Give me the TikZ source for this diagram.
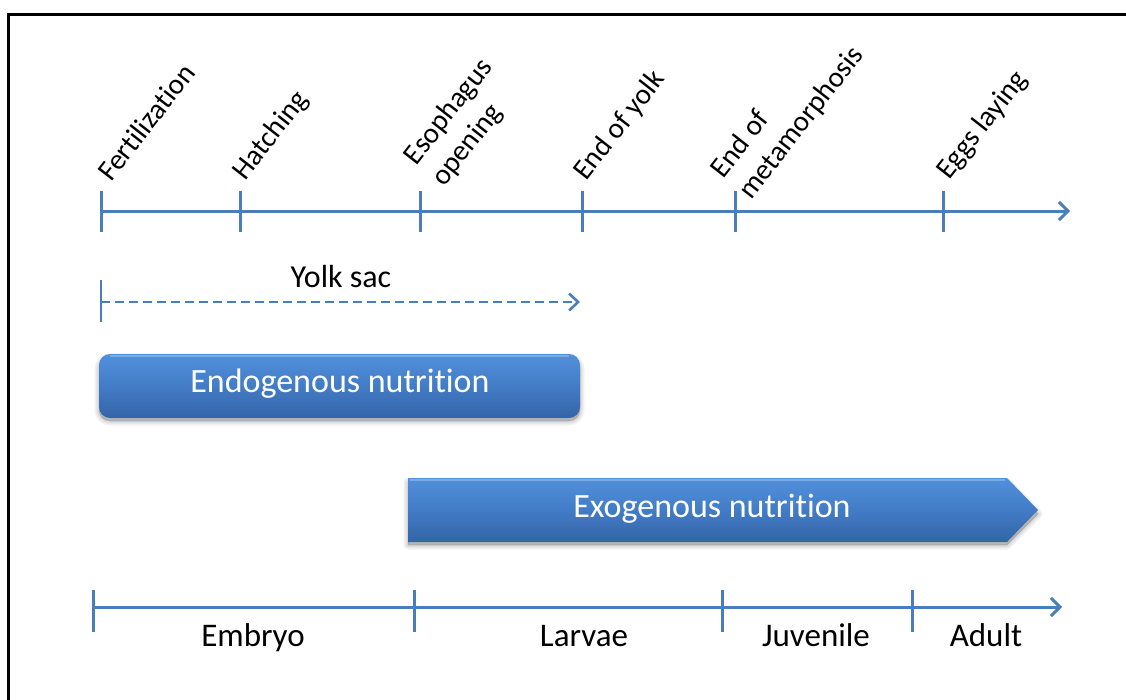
\documentclass[tikz,border=0pt]{standalone}
\usepackage{fontspec}
\setmainfont{Carlito}[Ligatures={NoCommon,NoRare,NoContextual}]
\usetikzlibrary{arrows.meta}
\definecolor{axisblue}{RGB}{74,126,187}
\definecolor{boxtop}{RGB}{82,144,220}
\definecolor{boxmid}{RGB}{66,124,198}
\definecolor{boxbot}{RGB}{52,100,166}

\begin{document}
\begin{tikzpicture}[x=1pt,y=-1pt,
  axis/.style={draw=axisblue,line width=3pt},
  barb/.style={-{Straight Barb[length=9pt,width=18pt,line width=3pt]}},
  event/.style={rotate=52,inner sep=0pt,
                font=\fontsize{29}{35}\selectfont},
  stage/.style={inner sep=0pt,anchor=base,font=\fontsize{33}{40}\selectfont},
  phasefill/.style={top color=boxtop,bottom color=boxbot,middle color=boxmid,draw=none},
  softshadow/.style={fill=black,fill opacity=0.05,draw=black,draw opacity=0.05},
  phasetext/.style={text=white,inner sep=0pt,font=\fontsize{34}{40}\selectfont}]

\useasboundingbox (0,0) rectangle (1126,699);

% outer frame
\draw[line width=3.5pt,line join=miter] (8.5,720) -- (8.5,14.5) -- (1140,14.5);

% ---------- event time line ----------
\coordinate (fert)  at (101,211);
\coordinate (tlend) at (1070,211);
\draw[axis,barb] (fert) -- (tlend);
\foreach \x in {101,240,420,582,735,943}
  \draw[axis] (\x,191) -- (\x,232);

\node[event,anchor=base west]  (lfert)  at (111,183) {Fertilization};
\node[event,anchor=base west]  (lhatch) at (245,182) {Hatching};
\node[event,align=left,anchor=south west] (leso)  at (448,191) {Esophagus\\opening};
\node[event,anchor=base west]  (lyolk)  at (586,182) {End of yolk};
\node[event,align=left,anchor=south west] (lmeta) at (755,204) {End of\\metamorphosis};
\node[event,anchor=base west]  (leggs)  at (949,181) {Eggs laying};

% ---------- yolk sac ----------
\coordinate (ys0) at (101,302);
\coordinate (ys1) at (580,302);
\draw[axis,line width=2.6pt] (101,280) -- (101,322);
\draw[axis,line width=2.6pt,dash pattern=on 9pt off 5pt,
      -{Straight Barb[length=9pt,width=17pt,line width=2.6pt]}] (ys0) -- (ys1);
\node[stage,font=\fontsize{32}{40}\selectfont] (lys) at (341,287) {Yolk sac};

% ---------- nutrition phases ----------
% soft shadows
\foreach \w in {9,6,3,1}
  \path[softshadow,line width=\w pt,rounded corners=11pt] (99,358) rectangle (580,421);
\foreach \w in {9,6,3,1}
  \path[softshadow,line width=\w pt,line join=round]
    (408,482) -- (1007,482) -- (1038,514) -- (1007,545) -- (408,545) -- cycle;

\path[phasefill,rounded corners=11pt] (99,354) rectangle (580,418);
\draw[white,opacity=0.25,line width=1.2pt] (110,356) -- (569,356);
\node[phasetext] (endo) at (340,384) {Endogenous nutrition};

\path[phasefill] (408,478) -- (1007,478) -- (1038,510) -- (1007,542) -- (408,542) -- cycle;
\draw[white,opacity=0.25,line width=1.2pt] (410,480) -- (1005,480);
\node[phasetext] (exo) at (712,509) {Exogenous nutrition};

% ---------- life stages ----------
\coordinate (st0)   at (93,607);
\coordinate (stend) at (1062,607);
\draw[axis,barb] (st0) -- (stend);
\foreach \x in {93,414,722,912}
  \draw[axis] (\x,590) -- (\x,632);

\node[stage] (embryo) at (253,646) {Embryo};
\node[stage] (larvae) at (584,646) {Larvae};
\node[stage] (juv)    at (816,646) {Juvenile};
\node[stage] (adult)  at (986,646) {Adult};
\end{tikzpicture}
\end{document}
